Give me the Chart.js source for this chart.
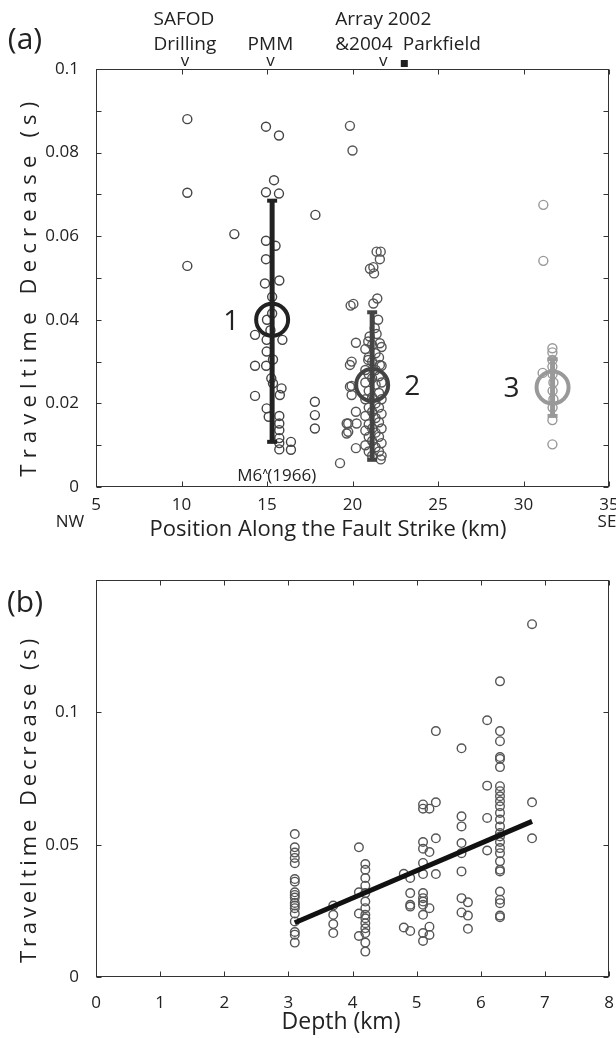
<!DOCTYPE html>
<html>
<head>
<meta charset="utf-8">
<script src="https://cdn.jsdelivr.net/npm/chart.js@4.4.0/dist/chart.umd.min.js"></script>
<style>
  body { margin: 0; background: #fff; }
  canvas { position: absolute; left: 0; }
</style>
</head>
<body>
<canvas id="chartA" width="616" height="545" style="top:0"></canvas>
<canvas id="chartB" width="616" height="493" style="top:545px"></canvas>
<script>
// ---- panel (a): position along fault strike (km) vs traveltime decrease (s)
const cluster1Km = [10.34, 10.34, 10.34, 13.09, 14.94, 15.7, 15.41, 14.94, 15.7, 17.83, 14.94, 15.5, 14.94,
  14.88, 15.72, 15.3, 15.0, 15.2, 15.3, 14.3, 15.9, 14.98, 14.98, 15.35, 14.3, 14.95, 15.25, 15.35, 15.85,
  15.75, 14.3, 14.98, 15.1, 15.72, 15.72, 15.72, 15.72, 15.72, 16.4, 16.4, 15.72, 17.8, 17.8, 17.8];
const cluster1Dec = [0.088, 0.0704, 0.0529, 0.0605, 0.0862, 0.0841, 0.0734, 0.0705, 0.0702, 0.0651, 0.0589, 0.0577, 0.0545,
  0.0487, 0.0494, 0.0455, 0.040, 0.0375, 0.0415, 0.0364, 0.0352, 0.0352, 0.0324, 0.0305, 0.029, 0.029, 0.026, 0.0248, 0.0236,
  0.022, 0.0218, 0.0188, 0.0168, 0.017, 0.0152, 0.0136, 0.0117, 0.0105, 0.0108, 0.0089, 0.009, 0.0204, 0.0172, 0.014];

const cluster2Km = [19.27, 19.85, 20.0, 21.41, 21.65, 21.6, 21.02, 21.22, 21.26, 19.89, 20.05, 21.22, 21.45,
  20.2, 21.6, 21.41, 20.92, 19.95, 19.85, 20.92, 21.6, 19.95, 19.95, 20.2, 19.75, 19.75, 20.2, 21.65,
  19.66, 20.24, 19.66, 19.85, 21.3, 21.5, 21.0,
  20.75, 20.75, 20.75, 20.75, 20.75, 20.75, 20.75,
  20.95, 20.95, 20.95, 20.95, 20.95, 20.95, 20.95,
  21.15, 21.15, 21.15, 21.15, 21.15, 21.15, 21.15, 21.15,
  21.35, 21.35, 21.35, 21.35, 21.35, 21.35, 21.35,
  21.55, 21.55, 21.55, 21.55, 21.55, 21.55, 21.55,
  21.7, 21.7, 21.7, 21.7, 21.7, 21.7, 21.7, 21.7];
const cluster2Dec = [0.0057, 0.0864, 0.0805, 0.0563, 0.0563, 0.0545, 0.0522, 0.0526, 0.0511, 0.0434, 0.0438, 0.0439, 0.0451,
  0.0345, 0.0344, 0.0366, 0.0348, 0.030, 0.0292, 0.0304, 0.0292, 0.0242, 0.022, 0.018, 0.0152, 0.0132, 0.0093, 0.0066,
  0.0152, 0.0152, 0.0128, 0.024, 0.038, 0.040, 0.036,
  0.033, 0.028, 0.025, 0.021, 0.017, 0.0135, 0.010,
  0.031, 0.027, 0.023, 0.019, 0.015, 0.012, 0.0085,
  0.034, 0.030, 0.026, 0.0215, 0.018, 0.014, 0.011, 0.0075,
  0.032, 0.028, 0.0245, 0.020, 0.0165, 0.013, 0.0095,
  0.031, 0.0265, 0.0225, 0.019, 0.0155, 0.012, 0.0085,
  0.0335, 0.029, 0.025, 0.021, 0.0175, 0.014, 0.0105, 0.0075];

const cluster3Km = [31.16, 31.16, 31.69, 31.69, 31.12, 31.69, 31.69, 31.7, 31.75, 31.7, 31.75, 31.7, 31.69, 31.69];
const cluster3Dec = [0.0675, 0.0541, 0.0332, 0.0322, 0.0273, 0.0304, 0.0288, 0.027, 0.025, 0.023, 0.021, 0.019, 0.016, 0.0102];

// cluster means with error bars
const clusterNames = ['1', '2', '3'];
const clusterMeanKm = [15.3, 21.15, 31.7];
const clusterMeanDec = [0.040, 0.0244, 0.0238];
const clusterLow = [0.0108, 0.0065, 0.017];
const clusterHigh = [0.0685, 0.0418, 0.0306];

// sites marked along the top axis
const siteKm = [10.2, 15.2, 21.8];
const siteLabels = [['SAFOD', 'Drilling'], ['PMM'], ['Array 2002', '&2004']];
const parkfieldKm = 23.0;
const quakeKm = 14.9;

const xTicksA = [5, 10, 15, 20, 25, 30, 35];
const yTicksA = [0, 0.01, 0.02, 0.03, 0.04, 0.05, 0.06, 0.07, 0.08, 0.09, 0.1];
const yLabelsA = ['0', '', '0.02', '', '0.04', '', '0.06', '', '0.08', '', '0.1'];

// ---- panel (b): depth (km) vs traveltime decrease (s), one list per depth column
const depthKm = [3.1, 3.7, 4.1, 4.2, 4.8, 4.9, 5.1, 5.2, 5.3, 5.7, 5.8, 6.1, 6.3, 6.8];
const decreaseB = [
  [0.054, 0.049, 0.047, 0.045, 0.043, 0.037, 0.036, 0.032, 0.031, 0.030, 0.028, 0.027, 0.026, 0.024, 0.021, 0.017, 0.016, 0.013],
  [0.027, 0.0235, 0.020, 0.0166],
  [0.049, 0.032, 0.024, 0.0155],
  [0.0427, 0.0405, 0.0374, 0.0345, 0.0317, 0.0285, 0.026, 0.0235, 0.0222, 0.0203, 0.0184, 0.0166, 0.013, 0.0096],
  [0.039, 0.0187],
  [0.0374, 0.0317, 0.0273, 0.0266, 0.0174],
  [0.0652, 0.0636, 0.051, 0.0485, 0.0431, 0.0389, 0.0317, 0.0298, 0.0285, 0.0273, 0.0235, 0.0166, 0.0136],
  [0.0636, 0.0472, 0.026, 0.019, 0.0159],
  [0.0929, 0.066, 0.0524, 0.0389],
  [0.0864, 0.0607, 0.0569, 0.0506, 0.0468, 0.0399, 0.0298, 0.0244],
  [0.0282, 0.0232, 0.0182],
  [0.097, 0.0723, 0.0601, 0.0478],
  [0.1117, 0.0929, 0.0891, 0.0831, 0.0824, 0.0793, 0.0721, 0.0702, 0.0683, 0.0664, 0.0645, 0.062, 0.0595, 0.0569,
   0.0544, 0.0531, 0.051, 0.0487, 0.0468, 0.0437, 0.0405, 0.0399, 0.0323, 0.0292, 0.0279, 0.0232, 0.0226],
  [0.1333, 0.066, 0.0524]
];
const fitDepth = [3.1, 6.8];
const fitDecrease = [0.0205, 0.0588];

const xTicksB = [0, 1, 2, 3, 4, 5, 6, 7, 8];
const yTicksB = [0, 0.05, 0.1, 0.15];
const yLabelsB = ['0', '0.05', '0.1', ''];

Chart.defaults.font.family = '"Open Sans", sans-serif';
Chart.defaults.color = '#222';

const pts = (xs, ys) => xs.map((x, i) => ({x: x, y: ys[i]}));

// box + inward ticks on all four sides, matlab style
const frameTicks = {
  id: 'frameTicks',
  afterDatasetsDraw(chart) {
    const {ctx, chartArea: a, scales: {x, y}} = chart;
    const L = a.left + 0.5, R = a.right - 0.5, T = a.top + 0.5, B = a.bottom - 0.5;
    ctx.save();
    ctx.strokeStyle = '#333';
    ctx.lineWidth = 1;
    ctx.strokeRect(L, T, R - L, B - T);
    ctx.beginPath();
    x.ticks.forEach(t => {
      const p = Math.round(x.getPixelForValue(t.value)) + 0.5;
      ctx.moveTo(p, B); ctx.lineTo(p, B - 5);
      ctx.moveTo(p, T); ctx.lineTo(p, T + 5);
    });
    y.ticks.forEach(t => {
      const p = Math.round(y.getPixelForValue(t.value)) + 0.5;
      ctx.moveTo(L, p); ctx.lineTo(L + 5, p);
      ctx.moveTo(R, p); ctx.lineTo(R - 5, p);
    });
    ctx.stroke();
    ctx.restore();
  }
};

// rotated, letter-spaced y title stretched to a given length
function yTitle(ctx, cx, cy, len) {
  const text = 'Traveltime Decrease (s)';
  ctx.save();
  ctx.font = '22px "Open Sans"';
  const base = ctx.measureText(text).width;
  const gap = (len - base) / (text.length - 1);
  ctx.letterSpacing = gap.toFixed(1) + 'px';
  ctx.translate(cx, cy + gap / 2);
  ctx.rotate(-Math.PI / 2);
  ctx.textAlign = 'center';
  ctx.textBaseline = 'middle';
  ctx.fillStyle = '#222';
  ctx.fillText(text, 0, 0);
  ctx.restore();
}

const annotateA = {
  id: 'annotateA',
  afterDraw(chart) {
    const {ctx, scales: {x, y}} = chart;
    ctx.save();
    ctx.fillStyle = '#222';
    ctx.textBaseline = 'middle';
    ctx.font = '30px "Open Sans"';
    ctx.textAlign = 'center';
    ctx.fillText('(a)', 25, 40);

    // site names above the top axis
    siteLabels.forEach((lines, i) => {
      const px = x.getPixelForValue(siteKm[i]);
      ctx.font = '19px "Open Sans"';
      const w = Math.max(...lines.map(s => ctx.measureText(s).width));
      ctx.textAlign = 'left';
      lines.forEach((s, j) => {
        const row = lines.length === 1 ? 1 : j;
        ctx.fillText(s, px - w / 2, 20 + row * 25);
      });
      ctx.font = '17px "Open Sans"';
      ctx.textAlign = 'center';
      ctx.fillText('v', px, 61);
    });
    const pk = x.getPixelForValue(parkfieldKm);
    ctx.fillRect(pk - 3, 60, 7, 7);
    ctx.font = '19px "Open Sans"';
    ctx.textAlign = 'left';
    ctx.fillText('Parkfield', pk - 1, 45);

    // 1966 quake marker
    const qk = x.getPixelForValue(quakeKm);
    ctx.font = '17px "Open Sans"';
    ctx.textAlign = 'right';
    ctx.fillText('M6', qk - 3, 476);
    ctx.textAlign = 'left';
    ctx.fillText('(1966)', qk + 2, 476);
    ctx.beginPath();
    ctx.strokeStyle = '#222';
    ctx.lineWidth = 1;
    ctx.moveTo(qk - 2, 474); ctx.lineTo(qk, 469); ctx.lineTo(qk + 2, 474);
    ctx.stroke();

    // cluster numbers
    ctx.font = '28px "Open Sans"';
    ctx.textAlign = 'center';
    const offs = [-41, 40, -41];
    clusterNames.forEach((n, i) => {
      ctx.fillText(n, x.getPixelForValue(clusterMeanKm[i]) + offs[i], y.getPixelForValue(clusterMeanDec[i]) + 2);
    });

    ctx.font = '17px "Open Sans"';
    ctx.fillText('NW', 70, 522);
    ctx.fillText('SE', 607, 522);
    ctx.font = '22px "Open Sans"';
    ctx.fillText('Position Along the Fault Strike (km)', 328, 530);
    ctx.restore();
    yTitle(ctx, 30, 283, 375);
  }
};

const annotateB = {
  id: 'annotateB',
  afterDraw(chart) {
    const {ctx} = chart;
    ctx.save();
    ctx.fillStyle = '#222';
    ctx.textBaseline = 'middle';
    ctx.textAlign = 'center';
    ctx.font = '30px "Open Sans"';
    ctx.fillText('(b)', 25, 58);
    ctx.font = '23px "Open Sans"';
    ctx.fillText('Depth (km)', 341, 477);
    ctx.restore();
    yTitle(ctx, 30, 252, 325);
  }
};

function tickFont() { return {size: 17}; }

const circle = (data, color, r, w, order) => ({
  data: data, order: order, pointStyle: 'circle', pointRadius: r, pointBorderWidth: w,
  pointBorderColor: color, pointBackgroundColor: 'rgba(0,0,0,0)'
});
const errBar = (i, color, w) => ({
  type: 'line', order: 2,
  data: [{x: clusterMeanKm[i], y: clusterLow[i]}, {x: clusterMeanKm[i], y: clusterHigh[i]}],
  borderColor: color, borderWidth: w, pointStyle: 'line', pointRadius: 5, pointBorderWidth: 4,
  pointBorderColor: color
});

new Chart(document.getElementById('chartA'), {
  type: 'scatter',
  data: {
    datasets: [
      circle(pts(cluster1Km, cluster1Dec), '#444', 4.5, 1.4, 5),
      circle(pts(cluster2Km, cluster2Dec), '#555', 4.5, 1.4, 5),
      circle(pts(cluster3Km, cluster3Dec), '#999', 4.5, 1.4, 5),
      errBar(0, '#222', 5),
      errBar(1, '#444', 5),
      errBar(2, '#999', 5),
      circle([{x: clusterMeanKm[0], y: clusterMeanDec[0]}], '#222', 16, 4, 1),
      circle([{x: clusterMeanKm[1], y: clusterMeanDec[1]}], '#444', 16, 4, 1),
      circle([{x: clusterMeanKm[2], y: clusterMeanDec[2]}], '#999', 16, 4, 1)
    ]
  },
  options: {
    responsive: false,
    animation: false,
    events: [],
    layout: {autoPadding: false, padding: {top: 69, right: 7, left: 0, bottom: 0}},
    plugins: {legend: {display: false}, tooltip: {enabled: false}},
    scales: {
      x: {
        type: 'linear', min: 5, max: 35,
        grid: {display: false}, border: {display: false},
        ticks: {font: tickFont(), padding: 0, maxRotation: 0},
        afterBuildTicks: s => { s.ticks = xTicksA.map(v => ({value: v})); },
        afterFit: s => { s.height = 58; s.paddingLeft = 0; s.paddingRight = 0; }
      },
      y: {
        min: 0, max: 0.1,
        grid: {display: false}, border: {display: false},
        ticks: {font: tickFont(), padding: 9, autoSkip: false,
          callback: (v, i) => yLabelsA[i]},
        afterBuildTicks: s => { s.ticks = yTicksA.map(v => ({value: v})); },
        afterFit: s => { s.width = 96; s.paddingTop = 0; s.paddingBottom = 0; }
      }
    }
  },
  plugins: [frameTicks, annotateA]
});

const bData = [];
depthKm.forEach((d, i) => decreaseB[i].forEach(v => bData.push({x: d, y: v})));

new Chart(document.getElementById('chartB'), {
  type: 'scatter',
  data: {
    datasets: [
      {
        type: 'line', order: 1,
        data: pts(fitDepth, fitDecrease),
        borderColor: '#111', borderWidth: 5, pointRadius: 0
      },
      circle(bData, '#555', 4.3, 1.4, 3)
    ]
  },
  options: {
    responsive: false,
    animation: false,
    events: [],
    layout: {autoPadding: false, padding: {top: 35, right: 7, left: 0, bottom: 0}},
    plugins: {legend: {display: false}, tooltip: {enabled: false}},
    scales: {
      x: {
        type: 'linear', min: 0, max: 8,
        grid: {display: false}, border: {display: false},
        ticks: {font: tickFont(), padding: 8, maxRotation: 0},
        afterBuildTicks: s => { s.ticks = xTicksB.map(v => ({value: v})); },
        afterFit: s => { s.height = 61; s.paddingLeft = 0; s.paddingRight = 0; }
      },
      y: {
        min: 0, max: 0.15,
        grid: {display: false}, border: {display: false},
        ticks: {font: tickFont(), padding: 9, autoSkip: false,
          callback: (v, i) => yLabelsB[i]},
        afterBuildTicks: s => { s.ticks = yTicksB.map(v => ({value: v})); },
        afterFit: s => { s.width = 96; s.paddingTop = 0; s.paddingBottom = 0; }
      }
    }
  },
  plugins: [frameTicks, annotateB]
});
</script>
</body>
</html>
